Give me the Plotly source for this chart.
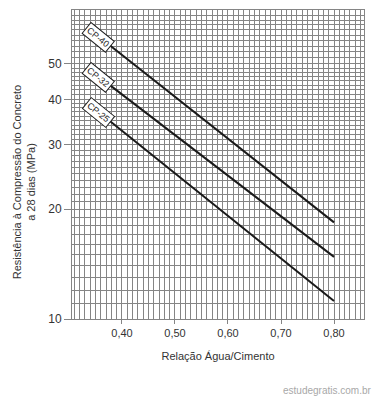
import math
import plotly.graph_objects as go

# Data
series_names = ["CP-40", "CP-32", "CP-25"]
x_ratio = [0.35, 0.80]
cp40 = [60.4, 18.4]
cp32 = [46.9, 14.8]
cp25 = [37.5, 11.2]
series_values = [cp40, cp32, cp25]

x_tickvals = [0.40, 0.50, 0.60, 0.70, 0.80]
x_ticktext = ["0,40", "0,50", "0,60", "0,70", "0,80"]
y_tickvals = [10, 20, 30, 40, 50]
y_ticktext = ["10", "20", "30", "40", "50"]

grid_col = "#858585"
txt_col = "#333333"
FONT = "Liberation Sans, Arial, sans-serif"

fig = go.Figure()
for name, vals in zip(series_names, series_values):
    fig.add_trace(go.Scatter(x=x_ratio, y=vals, mode="lines", name=name,
                             line=dict(color="#1a1a1a", width=2), showlegend=False,
                             hoverinfo="skip"))
    fig.add_annotation(x=x_ratio[0], y=math.log10(vals[0]), xref="x", yref="y",
                       text=name, showarrow=False, textangle=39,
                       font=dict(size=9, color="#222222", family=FONT),
                       bgcolor="white", bordercolor="#222222", borderwidth=1,
                       borderpad=1.5, xshift=3, yshift=-3)

# grid spacing (style): finer at the bottom, coarser towards the top
minor_y = ([10 + i for i in range(31)]
           + [40 + 1.25 * i for i in range(1, 9)]
           + [50 + 2 * i for i in range(1, 11)])

fig.update_xaxes(range=[0.3057, 0.8566], tickmode="array", tickvals=x_tickvals,
                 ticktext=x_ticktext, showgrid=True, gridcolor=grid_col, gridwidth=1,
                 ticks="outside", ticklen=4, tickcolor=grid_col,
                 tickfont=dict(size=11, color=txt_col, family=FONT),
                 minor=dict(dtick=0.01, tick0=0.0, showgrid=True, gridcolor=grid_col,
                            gridwidth=1, ticks=""),
                 showline=True, linecolor=grid_col, linewidth=1, mirror=True,
                 zeroline=False,
                 title=dict(text="Relação Água/Cimento", standoff=14,
                            font=dict(size=11, color=txt_col, family=FONT)))
fig.update_yaxes(type="log", range=[1, math.log10(70.3)], tickmode="array",
                 tickvals=y_tickvals, ticktext=y_ticktext, showgrid=True,
                 gridcolor=grid_col, gridwidth=1, ticks="outside", ticklen=7,
                 tickcolor=grid_col, tickfont=dict(size=12, color=txt_col, family=FONT),
                 minor=dict(tickmode="array", tickvals=minor_y, showgrid=True,
                            gridcolor=grid_col, gridwidth=1, ticks=""),
                 showline=True, linecolor=grid_col, linewidth=1, mirror=True,
                 zeroline=False)

fig.add_annotation(xref="paper", yref="paper", x=-0.164, y=0.443,
                   xanchor="center", yanchor="middle",
                   text="Resistência à Compressão do Concreto<br>a 28 dias (MPa)",
                   textangle=-90, showarrow=False,
                   font=dict(size=11, color=txt_col, family=FONT))
fig.add_annotation(xref="paper", yref="paper", x=1.03, y=-0.233,
                   xanchor="right", yanchor="middle", text="estudegratis.com.br",
                   showarrow=False, font=dict(size=10, color="#a8a8a8", family=FONT))

fig.update_layout(width=376, height=397,
                  margin=dict(l=72, r=12, t=10, b=78, autoexpand=False),
                  paper_bgcolor="white", plot_bgcolor="white",
                  separators=",.", font=dict(family=FONT))

fig.write_html("out.html", config={"displayModeBar": False},
               post_script="document.body.style.margin='0';"
                           "document.body.style.overflow='hidden';")
